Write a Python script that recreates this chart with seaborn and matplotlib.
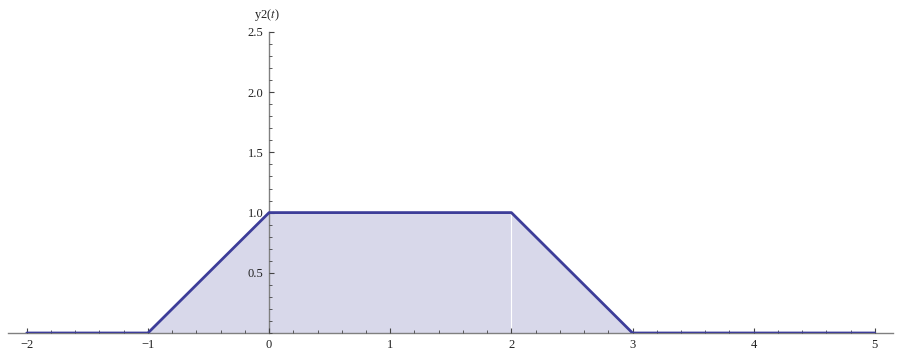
import matplotlib
matplotlib.use("Agg")
import matplotlib.pyplot as plt
from matplotlib.ticker import MultipleLocator, FormatStrFormatter
import seaborn as sns
import pandas as pd

# Piecewise-linear signal y2(t)
t_points = [-2, -1, 0, 2, 3, 5]
y_points = [0, 0, 1, 1, 0, 0]
x_major = [-2, -1, 0, 1, 2, 3, 4, 5]
y_major = [0.5, 1.0, 1.5, 2.0, 2.5]

line_color = "#3d3d99"
fill_color = "#d8d8ea"
axis_color = "#808080"
tick_color = "#444444"
text_color = "#222222"

sns.set_theme(style="white")
plt.rcParams["font.family"] = ["Liberation Serif", "DejaVu Serif"]
plt.rcParams["mathtext.fontset"] = "stix"

df = pd.DataFrame({"t": t_points, "y": y_points})

fig = plt.figure(figsize=(9.02, 3.56), dpi=100)
ax = fig.add_axes([8 / 902, 23 / 356, 885 / 902, 301 / 356])
ax.set_axisbelow(False)

ax.fill_between(df["t"], 0, df["y"], color=fill_color, linewidth=0, zorder=1)
# seam where the filled region changes slope at the plateau end
ax.plot([t_points[3], t_points[3]], [0, y_points[3]], color="white", lw=0.8, zorder=1.5)
sns.lineplot(data=df, x="t", y="y", ax=ax, color=line_color, linewidth=2.0,
             zorder=3, estimator=None, sort=False)

ax.set_xlim(-2.155, 5.15)
ax.set_ylim(0, 2.5)

for s in ["top", "right"]:
    ax.spines[s].set_visible(False)
ax.spines["left"].set_position(("data", 0))
ax.spines["bottom"].set_position(("data", 0))
for s in ["left", "bottom"]:
    ax.spines[s].set_color(axis_color)
    ax.spines[s].set_linewidth(1.0)
    ax.spines[s].set_zorder(2)

ax.set_xticks(x_major)
ax.set_yticks(y_major)
ax.xaxis.set_minor_locator(MultipleLocator(0.2))
ax.yaxis.set_minor_locator(MultipleLocator(0.1))
ax.yaxis.set_major_formatter(FormatStrFormatter("%.1f"))
ax.set_xticklabels([("\u2212" + str(-v)) if v < 0 else str(v) for v in x_major])

ax.tick_params(axis="both", which="major", direction="in", length=3.6, width=0.8,
               color=tick_color, labelsize=9, labelcolor=text_color)
ax.tick_params(axis="both", which="minor", direction="in", length=2.2, width=0.6,
               color=tick_color)
ax.tick_params(axis="x", which="major", pad=4)
ax.tick_params(axis="y", which="major", pad=4)
ax.tick_params(axis="x", which="both", bottom=True, top=False)
ax.tick_params(axis="y", which="both", left=True, right=False)

ax.set_xlabel("")
ax.set_ylabel("")
ax.grid(False)

ax.annotate("y2($\\it{t}$)", xy=(0, 2.5), xytext=(-2, 17), textcoords="offset pixels",
            ha="center", va="center", fontsize=9, color=text_color,
            annotation_clip=False)

fig.savefig("out.png", dpi=100)
